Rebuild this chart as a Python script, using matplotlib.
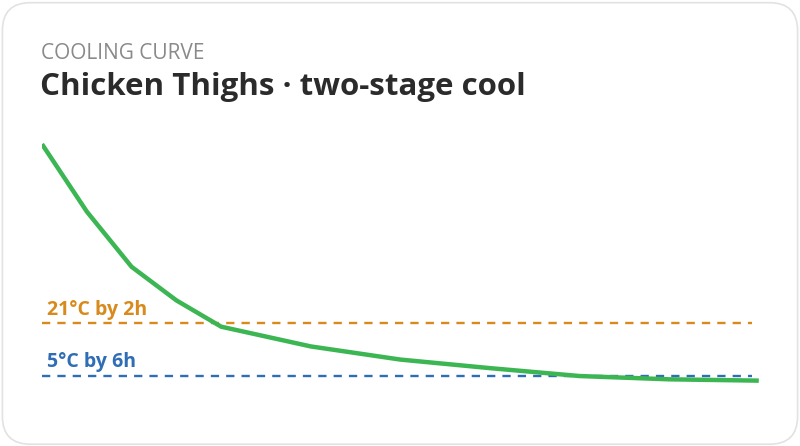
import matplotlib
matplotlib.use("Agg")
import matplotlib.pyplot as plt
from matplotlib.patches import FancyBboxPatch

# cooling readings (hours since cook, core temp in C)
hours = [0, 0.5, 1, 1.5, 2, 3, 4, 5, 6, 7, 8]
temps = [75.5, 55, 38.2, 28, 20, 14, 10, 7.4, 5, 4, 3.6]

# two-stage targets
limits = [21, 5]
limit_labels = ["21°C by 2h", "5°C by 6h"]
limit_colors = ["#d98a1c", "#2f6db5"]

kicker = "COOLING CURVE"
title = "Chicken Thighs · two-stage cool"

plt.rcParams['font.family'] = ['Open Sans', 'DejaVu Sans']

fig = plt.figure(figsize=(8, 4.46), dpi=100)
fig.patch.set_facecolor("white")

# card outline
card = FancyBboxPatch((0.003, 0.004), 0.994, 0.99,
                      boxstyle="round,pad=0,rounding_size=0.035",
                      transform=fig.transFigure, facecolor="white",
                      edgecolor="#e2e2e2", linewidth=1.2,
                      mutation_aspect=800 / 446, zorder=-5)
fig.patches.append(card)

fig.text(0.051, 0.867, kicker, fontsize=15, color="#8a8a8a",
         va="baseline", ha="left")
fig.text(0.050, 0.787, title, fontsize=22.5, fontweight="bold",
         color="#2b2b2b", va="baseline", ha="left")

ax = fig.add_axes([0.0525, 0.12, 0.896, 0.59])
ax.set_xlim(0, 8)
ax.set_ylim(0, 80)
ax.axis("off")

for val, lab, col in zip(limits, limit_labels, limit_colors):
    ax.plot([0, 7.92], [val, val], color=col, linewidth=1.7,
            dashes=(3.5, 3.0))
    ax.text(0.06, val + 2.65, lab, fontsize=14, fontweight="bold",
            color=col, va="baseline", ha="left")

ax.plot(hours, temps, color="#3cb553", linewidth=3.2,
        solid_capstyle="butt", solid_joinstyle="miter", zorder=3)

fig.savefig("out.png", dpi=100)
